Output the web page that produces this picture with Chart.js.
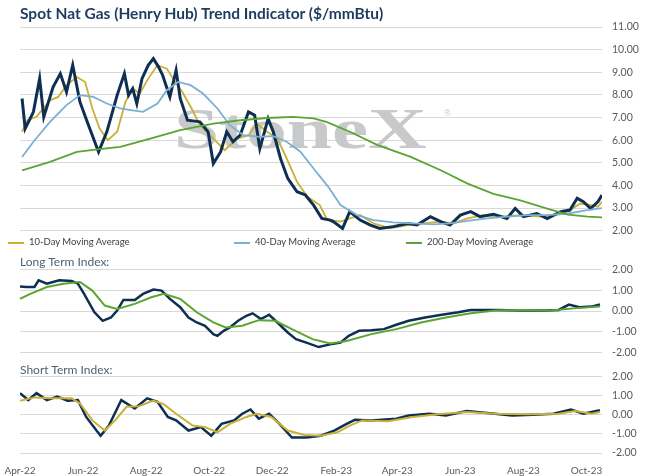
<!DOCTYPE html>
<html>
<head>
<meta charset="utf-8">
<script src="https://cdn.jsdelivr.net/npm/chart.js@4.4.0/dist/chart.umd.min.js"></script>
<style>
  body { margin: 0; background: #fff; font-family: Lato, "Open Sans", sans-serif; }
  #wrap { position: relative; width: 647px; height: 476px; overflow: hidden; }
  canvas { position: absolute; left: 0; }
  .title { position: absolute; left: 20px; top: 4px; font-size: 15.5px; font-weight: bold; color: #1f3a5f; }
  .sub { position: absolute; left: 20px; font-size: 12px; color: #4d6278; }
  .leg { position: absolute; top: 236px; font-size: 9.5px; color: #404040; }
  .leg span { display: inline-block; width: 16px; height: 2px; vertical-align: middle; margin-right: 5px; }
</style>
</head>
<body>
<div id="wrap">
  <canvas id="top" width="647" height="245" style="top:2px"></canvas>
  <canvas id="mid" width="647" height="116" style="top:253px"></canvas>
  <canvas id="low" width="647" height="117" style="top:360px"></canvas>
  <div class="title">Spot Nat Gas (Henry Hub) Trend Indicator ($/mmBtu)</div>
  <div class="leg" style="left:8px"><span style="background:#c9b037"></span>10-Day Moving Average</div>
  <div class="leg" style="left:234px"><span style="background:#7bafd4"></span>40-Day Moving Average</div>
  <div class="leg" style="left:406px"><span style="background:#5aa532"></span>200-Day Moving Average</div>
  <div class="sub" style="top:254px">Long Term Index:</div>
  <div class="sub" style="top:362px">Short Term Index:</div>
</div>
<script>
// days counted from 1 Apr 2022
const tickDays = [0, 61, 122, 183, 244, 306, 365, 426, 487, 548];
const tickLabels = ['Apr-22', 'Jun-22', 'Aug-22', 'Oct-22', 'Dec-22', 'Feb-23', 'Apr-23', 'Jun-23', 'Aug-23', 'Oct-23'];

const spotDays = [2, 5, 13, 19, 23, 32, 39, 45, 51, 58, 65, 76, 84, 94, 101, 105, 109, 113, 118, 124, 129, 134, 138, 145, 151, 155, 162, 174, 182, 187, 194, 200, 206, 213, 221, 227, 232, 240, 245, 252, 259, 268, 276, 284, 292, 300, 303, 312, 319, 329, 339, 348, 361, 375, 384, 397, 407, 416, 426, 436, 445, 458, 471, 479, 487, 500, 510, 523, 532, 539, 545, 552, 559, 563];
const spotVals = [7.84, 6.51, 7.25, 8.72, 7.03, 8.35, 8.94, 8.13, 9.31, 7.69, 6.81, 5.48, 6.37, 7.99, 8.94, 7.99, 8.28, 7.62, 8.72, 9.31, 9.6, 9.24, 8.87, 7.91, 9.09, 7.84, 6.88, 6.81, 6.37, 4.97, 5.48, 6.37, 5.93, 6.22, 7.25, 7.1, 5.63, 6.95, 6.37, 5.19, 4.31, 3.72, 3.58, 3.13, 2.54, 2.47, 2.4, 2.1, 2.84, 2.47, 2.25, 2.1, 2.18, 2.32, 2.25, 2.62, 2.4, 2.25, 2.69, 2.84, 2.62, 2.73, 2.54, 2.98, 2.62, 2.76, 2.54, 2.84, 2.91, 3.43, 3.28, 2.98, 3.28, 3.57];

const ma10Days = [2, 7, 16, 29, 37, 45, 55, 63, 70, 77, 85, 94, 102, 109, 116, 124, 133, 142, 148, 157, 166, 174, 187, 198, 210, 221, 229, 239, 249, 258, 268, 278, 290, 297, 310, 319, 329, 342, 358, 375, 390, 407, 419, 433, 448, 465, 484, 503, 523, 532, 542, 552, 559, 563];
const ma10Vals = [6.37, 6.88, 7.03, 7.76, 7.91, 8.43, 8.79, 8.57, 7.4, 6.51, 6.0, 6.37, 7.69, 8.28, 8.06, 8.72, 9.31, 9.16, 8.72, 8.13, 7.4, 6.66, 6.07, 5.56, 6.07, 6.22, 6.73, 6.37, 6.07, 5.19, 4.16, 3.5, 3.13, 2.5, 2.4, 2.54, 2.69, 2.32, 2.1, 2.25, 2.32, 2.4, 2.32, 2.54, 2.69, 2.62, 2.69, 2.62, 2.73, 2.91, 3.2, 3.13, 3.06, 3.28];

const ma40Days = [2, 13, 29, 45, 58, 71, 84, 97, 109, 119, 133, 142, 153, 165, 177, 191, 203, 216, 232, 245, 258, 271, 284, 298, 310, 326, 342, 361, 380, 400, 416, 433, 452, 471, 491, 510, 530, 549, 563];
const ma40Vals = [5.26, 5.93, 6.81, 7.55, 7.99, 7.91, 7.62, 7.4, 7.32, 7.25, 7.62, 8.21, 8.57, 8.43, 8.06, 7.4, 6.66, 6.22, 6.15, 6.18, 5.93, 5.5, 4.75, 3.95, 3.13, 2.69, 2.47, 2.37, 2.32, 2.28, 2.32, 2.43, 2.54, 2.62, 2.69, 2.69, 2.76, 2.91, 3.0];

const ma200Days = [2, 29, 55, 77, 97, 126, 155, 187, 213, 239, 264, 284, 297, 319, 346, 378, 407, 433, 458, 484, 510, 530, 549, 563];
const ma200Vals = [4.67, 5.04, 5.48, 5.6, 5.7, 6.07, 6.44, 6.73, 6.88, 6.98, 7.03, 6.96, 6.8, 6.37, 5.78, 5.26, 4.67, 4.08, 3.63, 3.34, 2.98, 2.71, 2.62, 2.59];

const longDays = [0, 6, 14, 18, 26, 38, 50, 56, 62, 72, 80, 88, 94, 100, 111, 119, 129, 137, 145, 155, 163, 171, 179, 187, 191, 197, 203, 211, 219, 225, 233, 241, 249, 259, 267, 277, 289, 300, 310, 318, 328, 340, 352, 364, 376, 392, 408, 424, 436, 460, 484, 509, 521, 531, 541, 553, 561];
const longVals = [1.18, 1.15, 1.15, 1.47, 1.31, 1.47, 1.44, 1.31, 0.82, -0.06, -0.47, -0.31, 0.02, 0.53, 0.53, 0.82, 1.03, 0.98, 0.58, 0.18, -0.31, -0.55, -0.71, -1.11, -1.19, -0.95, -0.79, -0.47, -0.23, -0.11, -0.39, -0.18, -0.55, -1.03, -1.35, -1.52, -1.73, -1.6, -1.52, -1.19, -0.95, -0.92, -0.87, -0.66, -0.47, -0.31, -0.18, -0.06, 0.05, 0.05, 0.02, 0.02, 0.05, 0.31, 0.18, 0.21, 0.31];
const longSigDays = [0, 10, 26, 42, 58, 70, 82, 94, 111, 127, 139, 155, 171, 187, 199, 215, 231, 247, 263, 283, 300, 316, 340, 364, 388, 412, 436, 460, 484, 513, 541, 561];
const longSigVals = [0.58, 0.82, 1.15, 1.31, 1.39, 0.98, 0.26, 0.1, 0.34, 0.66, 0.82, 0.58, -0.06, -0.55, -0.79, -0.71, -0.44, -0.47, -0.87, -1.35, -1.56, -1.44, -1.11, -0.87, -0.55, -0.31, -0.11, 0.02, 0.05, 0.02, 0.15, 0.21];

const shortDays = [0, 8, 16, 26, 36, 46, 56, 64, 74, 78, 86, 98, 111, 123, 133, 143, 151, 163, 175, 185, 195, 207, 215, 223, 231, 241, 251, 263, 277, 291, 304, 316, 324, 340, 364, 376, 396, 412, 432, 452, 476, 496, 516, 533, 545, 561];
const shortVals = [1.12, 0.76, 1.12, 0.76, 0.94, 0.73, 0.76, -0.12, -0.83, -1.1, -0.57, 0.76, 0.32, 0.85, 0.67, -0.12, -0.3, -0.83, -0.65, -1.1, -0.48, -0.3, 0.05, 0.27, -0.21, 0.05, -0.48, -1.19, -1.19, -1.1, -0.83, -0.48, -0.27, -0.3, -0.21, -0.04, 0.05, -0.04, 0.19, 0.09, -0.04, 0, 0.05, 0.27, 0.05, 0.23];
const shortSigDays = [0, 14, 30, 50, 58, 70, 82, 92, 103, 115, 129, 139, 151, 167, 179, 191, 203, 219, 229, 243, 259, 275, 291, 307, 319, 331, 356, 380, 404, 432, 460, 492, 521, 537, 553, 561];
const shortSigVals = [0.73, 0.9, 0.85, 0.85, 0.58, -0.3, -0.83, -0.3, 0.41, 0.44, 0.73, 0.55, 0.05, -0.57, -0.65, -0.92, -0.48, -0.12, 0.05, -0.12, -0.83, -1.06, -1.1, -0.92, -0.57, -0.3, -0.34, -0.12, 0.02, 0.14, 0.05, 0.02, 0.05, 0.19, 0.05, 0.14];

const NAVY = '#0f2f52', YEL = '#c9b037', BLUE = '#7bafd4', GRN = '#5aa532';
const pts = (d, v) => d.map((x, i) => ({ x: x, y: v[i] }));
const ds = (d, v, c, w) => ({ data: pts(d, v), borderColor: c, borderWidth: w, pointRadius: 0, tension: 0, fill: false });

function opts(yMin, yMax, step, pad, showX) {
  const x = {
    type: 'linear', min: 0, max: 563, display: showX,
    afterBuildTicks: s => { s.ticks = tickDays.map(v => ({ value: v })); },
    grid: { display: false }, border: { display: false },
    ticks: { callback: (v) => tickLabels[tickDays.indexOf(v)], color: '#595959', font: { size: 10, family: 'Lato' }, maxRotation: 0, autoSkip: false, padding: 4 }
  };
  if (showX) x.afterFit = s => { s.height = 24; };
  return {
    animation: false, responsive: false,
    layout: { padding: pad },
    plugins: { legend: { display: false }, tooltip: { enabled: false } },
    scales: {
      x: x,
      y: {
        position: 'right', min: yMin, max: yMax,
        afterFit: s => { s.width = 45; },
        grid: { color: '#d9d9d9', drawTicks: false }, border: { display: false },
        ticks: { stepSize: step, padding: 10, color: '#595959', font: { size: 10.5, family: 'Lato' }, callback: v => v.toFixed(2) }
      }
    }
  };
}

const watermark = {
  id: 'wm',
  beforeDatasetsDraw(chart) {
    const c = chart.ctx;
    c.save();
    c.fillStyle = '#c8c9cb';
    c.font = 'bold 58px "Liberation Serif", serif';
    c.textBaseline = 'alphabetic';
    c.translate(174, 146);
    c.scale(1.4, 1);
    c.fillText('StoneX', 0, 0);
    c.restore();
    c.save();
    c.fillStyle = '#c8c9cb';
    c.font = '9px sans-serif';
    c.fillText('®', 444, 114);
    c.restore();
  }
};

new Chart(document.getElementById('top'), {
  type: 'line',
  data: { datasets: [
    ds(ma200Days, ma200Vals, GRN, 1.8),
    ds(ma40Days, ma40Vals, BLUE, 1.8),
    ds(spotDays, spotVals, NAVY, 3),
    ds(ma10Days, ma10Vals, YEL, 1.8)
  ] },
  options: opts(2, 11, 1, { left: 20, top: 25, bottom: 11, right: 0 }, false),
  plugins: [watermark]
});

new Chart(document.getElementById('mid'), {
  type: 'line',
  data: { datasets: [ds(longSigDays, longSigVals, GRN, 2), ds(longDays, longVals, NAVY, 2.5)] },
  options: opts(-2, 2, 1, { left: 20, top: 13, bottom: 8, right: 0 }, false)
});

new Chart(document.getElementById('low'), {
  type: 'line',
  data: { datasets: [ds(shortSigDays, shortSigVals, YEL, 2), ds(shortDays, shortVals, NAVY, 2.5)] },
  options: opts(-2, 2, 1, { left: 20, top: 11, bottom: 0, right: 0 }, true)
});
</script>
</body>
</html>
